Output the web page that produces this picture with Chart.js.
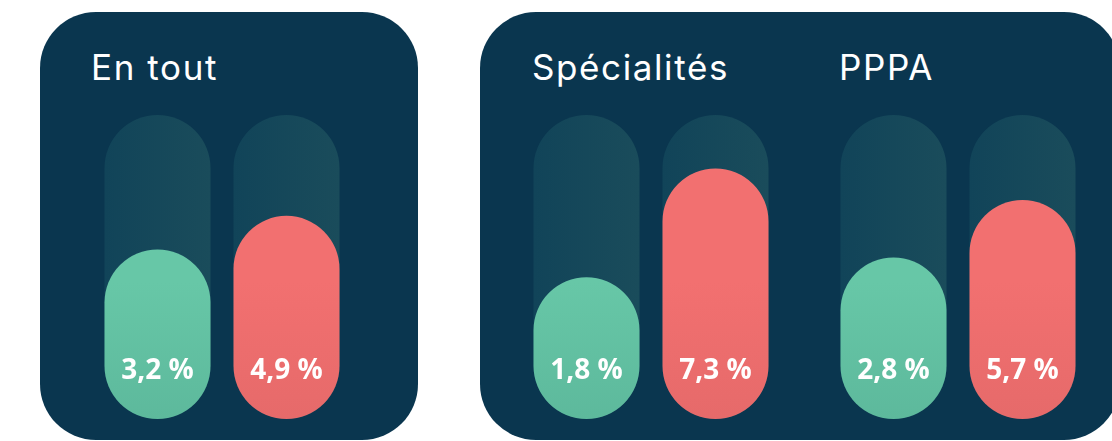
<!DOCTYPE html>
<html lang="fr">
<head>
<meta charset="utf-8">
<script src="https://cdn.jsdelivr.net/npm/chart.js@4/dist/chart.umd.min.js"></script>
<style>
  html, body { margin: 0; padding: 0; background: #ffffff; }
  body { width: 1112px; height: 441px; position: relative; overflow: hidden; }
  .panel { position: absolute; background: #0a364f; border-radius: 56px; }
  .title { position: absolute; color: #ffffff; font-family: Inter, sans-serif; font-size: 35px; line-height: 1; white-space: nowrap; letter-spacing: 1.6px; }
  .box { position: absolute; }
</style>
</head>
<body>
<div class="panel" style="left:40px; top:12px; width:378px; height:428px;"></div>
<div class="panel" style="left:480px; top:12px; width:640px; height:428px;"></div>

<div class="title" style="left:91px; top:50px;">En tout</div>
<div class="title" style="left:532px; top:50px;">Spécialités</div>
<div class="title" style="left:839px; top:50px;">PPPA</div>

<div class="box" style="left:93px; top:115px; width:258px; height:304px;"><canvas id="c0"></canvas></div>
<div class="box" style="left:522px; top:115px; width:258px; height:304px;"><canvas id="c1"></canvas></div>
<div class="box" style="left:829px; top:115px; width:258px; height:304px;"><canvas id="c2"></canvas></div>

<script>
// données
const groups = ['En tout', 'Spécialités', 'PPPA'];
const barKeys = ['vert', 'rouge'];
const greenValues = [3.2, 1.8, 2.8];
const redValues = [4.9, 7.3, 5.7];
const trackMax = 10;
const axisMin = -5.37;   // la pilule garde sa hauteur minimale (les deux arrondis)

const colors = {
  green: ['#67c7a7', '#5db99c'],
  red: ['#f27070', '#e66a6a'],
  track: ['#114459', '#1a4c5b']
};

function vertical(ctx, area, c) {
  const g = ctx.createLinearGradient(0, area.top, 0, area.bottom);
  g.addColorStop(0, c[0]);
  g.addColorStop(0.55, c[0]);
  g.addColorStop(1, c[1]);
  return g;
}

// libellé au centre de l'arrondi du bas
const valueLabels = {
  id: 'valueLabels',
  afterDatasetsDraw(chart) {
    const ctx = chart.ctx;
    const meta = chart.getDatasetMeta(1);
    const values = chart.data.datasets[1].values;
    ctx.save();
    ctx.fillStyle = '#ffffff';
    ctx.font = 'bold 28px "Open Sans", sans-serif';
    ctx.textAlign = 'center';
    ctx.textBaseline = 'middle';
    meta.data.forEach((bar, i) => {
      const txt = values[i].toFixed(1).replace('.', ',') + ' %';
      const bottom = Math.max(bar.base, bar.y);
      ctx.fillText(txt, bar.x, bottom - bar.width / 2 + 5);
    });
    ctx.restore();
  }
};

groups.forEach((name, i) => {
  const vals = [greenValues[i], redValues[i]];
  new Chart(document.getElementById('c' + i), {
    type: 'bar',
    data: {
      labels: barKeys,
      datasets: [
        {
          label: 'fond',
          data: barKeys.map(() => [axisMin, trackMax]),
          order: 2,
          backgroundColor: (c) => {
            const area = c.chart.chartArea;
            if (!area) return colors.track[0];
            const w = area.right - area.left;
            const step = w / barKeys.length;
            const x0 = area.left + step * c.dataIndex + (step - 106) / 2;
            const g = c.chart.ctx.createLinearGradient(x0, 0, x0 + 106, 0);
            g.addColorStop(0, colors.track[0]);
            g.addColorStop(1, colors.track[1]);
            return g;
          }
        },
        {
          label: name,
          values: vals,
          data: vals.map(v => [axisMin, v]),
          order: 1,
          backgroundColor: (c) => {
            const area = c.chart.chartArea;
            const pair = c.dataIndex === 0 ? colors.green : colors.red;
            if (!area) return pair[0];
            return vertical(c.chart.ctx, area, pair);
          }
        }
      ]
    },
    options: {
      responsive: true,
      maintainAspectRatio: false,
      animation: false,
      layout: { padding: 0 },
      datasets: {
        bar: {
          categoryPercentage: 1,
          barPercentage: 106 / 129,
          borderRadius: 60,
          borderSkipped: false,
          borderWidth: 0
        }
      },
      scales: {
        x: { display: false, stacked: true },
        y: { display: false, stacked: false, min: axisMin, max: trackMax }
      },
      plugins: {
        legend: { display: false },
        tooltip: { enabled: false },
        title: { display: false }
      }
    },
    plugins: [valueLabels]
  });
});
</script>
</body>
</html>
